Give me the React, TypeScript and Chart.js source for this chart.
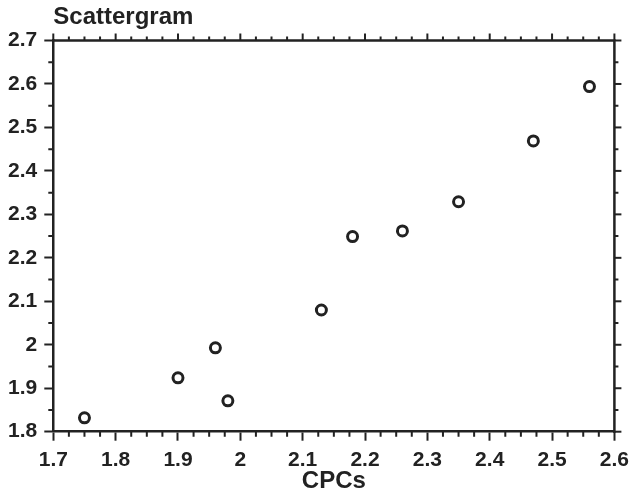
import React, { useEffect, useRef } from "react";
import { Chart, registerables } from "chart.js";

Chart.register(...registerables);

const xValues = [1.75, 1.9, 1.96, 1.98, 2.13, 2.18, 2.26, 2.35, 2.47, 2.56];
const yValues = [1.832, 1.924, 1.993, 1.871, 2.08, 2.249, 2.262, 2.329, 2.469, 2.594];
const xRange = [1.7, 2.6];
const yRange = [1.8, 2.7];
const titleText = "Scattergram";
const xTitle = "CPCs";

const INK = "#222";
const FONT = "'Liberation Sans', Arial, Helvetica, sans-serif";

const fmt = (v: number | string) => String(+Number(v).toFixed(2));

const frameTicks = {
  id: "frameTicks",
  afterDraw(chart: any) {
    const { ctx, chartArea: a, scales } = chart;
    const x = scales.x;
    const y = scales.y;
    ctx.save();
    ctx.strokeStyle = INK;
    ctx.lineWidth = 2;
    ctx.lineCap = "butt";
    const xn = Math.round((xRange[1] - xRange[0]) / 0.025);
    for (let k = 0; k <= xn; k++) {
      const v = xRange[0] + k * 0.025;
      const px = x.getPixelForValue(v);
      const major = k % 4 === 0;
      ctx.beginPath();
      if (!major) {
        ctx.moveTo(px, a.bottom);
        ctx.lineTo(px, a.bottom + 5);
      }
      ctx.moveTo(px, a.top);
      ctx.lineTo(px, a.top - (major ? 7 : 4));
      ctx.stroke();
    }
    const yn = Math.round((yRange[1] - yRange[0]) / 0.05);
    for (let k = 0; k <= yn; k++) {
      const v = yRange[0] + k * 0.05;
      const py = y.getPixelForValue(v);
      const major = k % 2 === 0;
      ctx.beginPath();
      if (!major) {
        ctx.moveTo(a.left, py);
        ctx.lineTo(a.left - 5, py);
      }
      ctx.moveTo(a.right, py);
      ctx.lineTo(a.right + (major ? 7 : 4), py);
      ctx.stroke();
    }
    ctx.lineWidth = 2.5;
    ctx.beginPath();
    ctx.moveTo(a.left - 1.25, a.top);
    ctx.lineTo(a.right, a.top);
    ctx.lineTo(a.right, a.bottom + 1.25);
    ctx.stroke();
    ctx.restore();
  },
};

export default function App() {
  const ref = useRef<HTMLCanvasElement>(null);
  useEffect(() => {
    if (!ref.current) return;
    const chart = new Chart(ref.current, {
      type: "scatter",
      data: {
        datasets: [
          {
            data: xValues.map((v, i) => ({ x: v, y: yValues[i] })),
            pointStyle: "circle",
            pointRadius: 5,
            pointBorderWidth: 3,
            pointBackgroundColor: "#fff",
            pointBorderColor: INK,
            showLine: false,
          },
        ],
      },
      options: {
        animation: false,
        responsive: false,
        layout: { padding: { left: 0, right: 20.3, top: 0, bottom: 0 } },
        plugins: {
          legend: { display: false },
          tooltip: { enabled: false },
          title: {
            display: true,
            text: titleText,
            align: "start",
            fullSize: false,
            color: INK,
            font: { family: FONT, size: 24, weight: "bold", lineHeight: 1.2 },
            padding: { top: 3, bottom: 8.7 },
          },
        },
        scales: {
          x: {
            type: "linear",
            min: xRange[0],
            max: xRange[1],
            afterFit: (s: any) => {
              s.height = 61.3;
            },
            border: { display: true, color: INK, width: 2.5 },
            grid: {
              drawOnChartArea: false,
              drawTicks: true,
              tickLength: 9,
              tickColor: INK,
              tickWidth: 2,
            },
            ticks: {
              stepSize: 0.1,
              color: INK,
              padding: 7,
              maxRotation: 0,
              autoSkip: false,
              font: { family: FONT, size: 21, weight: "bold" },
              callback: (v: any) => fmt(v),
            },
            title: {
              display: true,
              text: xTitle,
              color: INK,
              font: { family: FONT, size: 24, weight: "bold", lineHeight: 1 },
              padding: { top: 0, bottom: 0 },
            },
          },
          y: {
            type: "linear",
            min: yRange[0],
            max: yRange[1],
            afterFit: (s: any) => {
              s.width = 53.3;
            },
            border: { display: true, color: INK, width: 2.5 },
            grid: {
              drawOnChartArea: false,
              drawTicks: true,
              tickLength: 9,
              tickColor: INK,
              tickWidth: 2,
            },
            ticks: {
              stepSize: 0.1,
              color: INK,
              padding: 7,
              autoSkip: false,
              font: { family: FONT, size: 21, weight: "bold" },
              callback: (v: any) => fmt(v),
            },
          },
        },
      },
      plugins: [frameTicks],
    } as any);
    return () => chart.destroy();
  }, []);
  return (
    <div style={{ position: "fixed", left: 0, top: 0, width: 636, height: 493, background: "#fff" }}>
      <canvas ref={ref} width={636} height={493} />
    </div>
  );
}
